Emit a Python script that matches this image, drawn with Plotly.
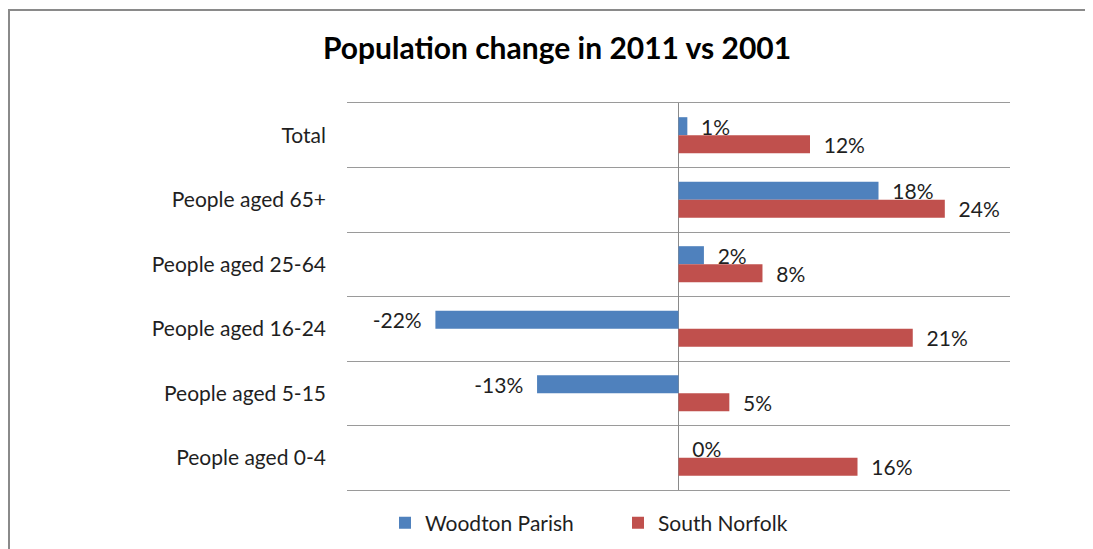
import plotly.graph_objects as go

categories = ["Total", "People aged 65+", "People aged 25-64", "People aged 16-24",
              "People aged 5-15", "People aged 0-4"]
woodton = [0.008, 0.181, 0.023, -0.22, -0.128, 0.0]
south_norfolk = [0.119, 0.241, 0.076, 0.212, 0.046, 0.162]
series_names = ["Woodton Parish", "South Norfolk"]
colors = ["#4F81BD", "#C0504D"]

FONT = "Lato, 'Open Sans', sans-serif"
TXT = "#1f1f1f"
FS = 21
NB = "\u00a0\u00a0"
GRID = "#9a9a9a"

fig = go.Figure()
for name, vals, col in zip(series_names, [woodton, south_norfolk], colors):
    tmpl = [(NB + "%{x:.0%}") if v >= 0 else ("%{x:.0%}" + NB) for v in vals]
    fig.add_trace(go.Bar(
        y=categories, x=vals, name=name, orientation="h",
        marker=dict(color=col, line=dict(width=0)),
        texttemplate=tmpl, textposition="outside",
        textfont=dict(family=FONT, size=FS, color=TXT),
        cliponaxis=False,
    ))

# page has an 8px body margin: figure coords = window coords - 8
OFF = 8
W, H = 1093 - OFF, 549 - OFF
ml, mt = 347 - OFF, 103 - OFF
plot_right, plot_bottom = 1010 - OFF, 490 - OFF
mr, mb = W - plot_right, H - plot_bottom
pw, ph = W - ml - mr, H - mt - mb

def px_x(x):
    return (x - OFF - ml) / pw

def px_y(y):
    return (plot_bottom - (y - OFF)) / ph

fig.add_shape(type="rect", xref="paper", yref="paper",
              x0=px_x(9), x1=px_x(1120), y0=px_y(10), y1=px_y(580),
              line=dict(color="#8a8a8a", width=2), fillcolor="rgba(0,0,0,0)",
              layer="below")

fig.update_layout(
    width=W, height=H,
    margin=dict(l=ml, r=mr, t=mt, b=mb, autoexpand=False),
    paper_bgcolor="white", plot_bgcolor="white",
    barmode="group", bargap=0.44, bargroupgap=0,
    font=dict(family=FONT, size=FS, color=TXT),
    title=dict(text="<b>Population change in 2011 vs 2001</b>",
               x=(557 - OFF) / W, xanchor="center", y=1 - (48 - OFF) / H, yanchor="middle",
               font=dict(family=FONT, size=30, color="#000")),
    showlegend=True,
    legend=dict(orientation="h", x=px_x(385), xanchor="left",
                y=px_y(523), yanchor="middle",
                font=dict(family=FONT, size=FS, color=TXT),
                entrywidth=188, entrywidthmode="pixels"),
    uniformtext=dict(minsize=FS, mode="show"),
)
fig.update_xaxes(range=[-0.3, 0.3], showgrid=False, showticklabels=False,
                 zeroline=True, zerolinecolor="#8a8a8a", zerolinewidth=1,
                 ticks="", showline=True, mirror=True, linecolor=GRID, linewidth=1,
                 fixedrange=True)
fig.update_yaxes(autorange="reversed", tickson="boundaries", showgrid=True,
                 gridcolor=GRID, gridwidth=1, ticks="", ticklabelstandoff=20,
                 tickfont=dict(family=FONT, size=FS, color=TXT),
                 showline=False, zeroline=False)

fig.write_html("out.html")
